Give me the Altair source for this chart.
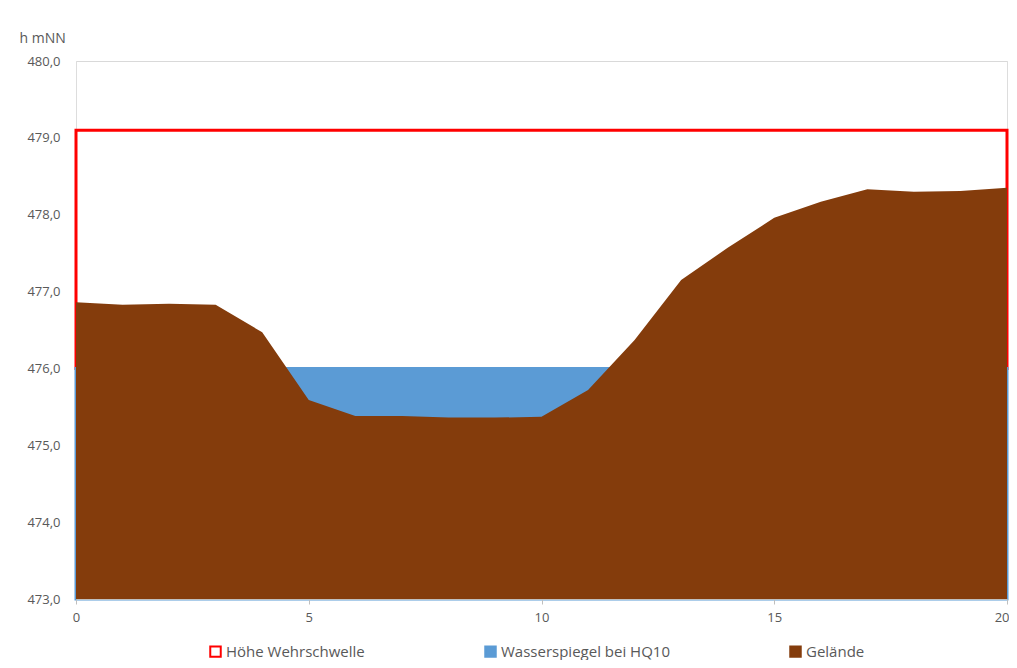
import altair as alt
import pandas as pd

# data
stations = list(range(21))
gelaende = [476.86, 476.83, 476.84, 476.83, 476.47, 475.59, 475.38, 475.38, 475.36, 475.36,
            475.37, 475.72, 476.37, 477.15, 477.57, 477.96, 478.17, 478.33, 478.30, 478.31, 478.35]
wasserspiegel = [476.0] * 21
wehrschwelle = [479.1] * 21
boden = 473.0

series = ["Höhe Wehrschwelle", "Wasserspiegel bei HQ10", "Gelände"]
fills = ["white", "#5b9bd5", "#843c0c"]
strokes = ["#ff0000", "#5b9bd5", "#843c0c"]

df_weir = pd.DataFrame({"x": stations, "y": wehrschwelle, "base": wasserspiegel, "Serie": series[0]})
df_water = pd.DataFrame({"x": stations, "y": wasserspiegel, "base": [boden] * 21, "Serie": series[1]})
df_ground = pd.DataFrame({"x": stations, "y": gelaende, "base": [boden] * 21, "Serie": series[2]})

font = "Open Sans"

x_enc = alt.X("x:Q", scale=alt.Scale(domain=[0, 20], nice=False),
              axis=alt.Axis(values=[0, 5, 10, 15, 20], title=None, grid=False,
                            domainColor="#bfbfbf", tickColor="#bfbfbf", tickSize=5,
                            labelColor="#595959", labelFontSize=13, labelPadding=7,
                            labelFont=font, zindex=1, labelBound=False, labelFlush=False,
                            labelAlign={"expr": "datum.value == 20 ? 'right' : 'center'"},
                            labelOffset={"expr": "datum.value == 20 ? 2 : 0"}))
y_enc = alt.Y("y:Q", stack=None, scale=alt.Scale(domain=[473, 480], nice=False, zero=False),
              axis=alt.Axis(values=[473, 474, 475, 476, 477, 478, 479, 480],
                            labelExpr="replace(format(datum.value, '.1f'), '.', ',')",
                            title="h mNN", titleAngle=0, titleX=-57, titleY=-23,
                            titleAlign="left", titleBaseline="middle",
                            titleFontWeight="normal", titleFontSize=14, titleColor="#595959",
                            titleFont=font,
                            domain=False, ticks=False, gridColor="#d9d9d9",
                            labelColor="#595959", labelFontSize=13, labelPadding=16,
                            labelFont=font))

legend = alt.Legend(title=None, orient="none", legendX=132, legendY=583,
                    direction="horizontal", columns=3, columnPadding=116,
                    symbolType="square", symbolSize=110, symbolStrokeWidth=2,
                    labelFontSize=15, labelColor="#595959", labelFont=font,
                    labelOffset=3, padding=0, labelLimit=400)

fill_enc = alt.Fill("Serie:N", scale=alt.Scale(domain=series, range=fills), legend=legend)
stroke_enc = alt.Stroke("Serie:N", scale=alt.Scale(domain=series, range=strokes), legend=legend)


def layer(df, sw):
    return alt.Chart(df).mark_area(strokeWidth=sw, line=False).encode(
        x=x_enc, y=y_enc, y2=alt.Y2("base:Q"), fill=fill_enc, stroke=stroke_enc,
    )


chart = alt.layer(
    layer(df_weir, 3),
    layer(df_water, 3),
    layer(df_ground, 0),
).properties(
    width=931, height=538,
    autosize="none",
    padding={"left": 68, "top": 53, "right": 2, "bottom": 61},
).configure_view(stroke=None).configure(background="white")

chart.save("out.html", embed_options={"renderer": "svg", "actions": False})
